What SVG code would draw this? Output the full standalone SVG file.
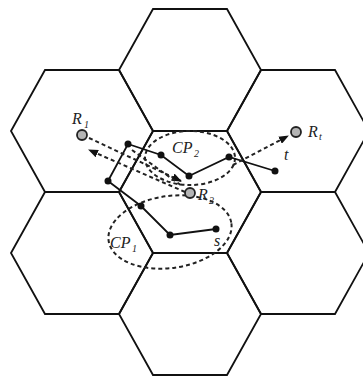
<svg xmlns="http://www.w3.org/2000/svg" width="363" height="376" viewBox="0 0 363 376">
<style>
.hex{fill:none;stroke:#111;stroke-width:1.8;stroke-linejoin:miter}
.path{fill:none;stroke:#111;stroke-width:1.8}
.dash{fill:none;stroke:#222;stroke-width:2;stroke-dasharray:4 3}
.dot{fill:#111}
.relay{fill:#b5b5b5;stroke:#222;stroke-width:1.8}
.lbl{font-family:"Liberation Serif",serif;font-style:italic;font-size:16px;fill:#222}
.sub{font-family:"Liberation Serif",serif;font-style:italic;font-size:10px;fill:#222}
</style>
<defs>
<marker id="ah" viewBox="0 0 10 8" refX="9" refY="4" markerWidth="10" markerHeight="8" markerUnits="userSpaceOnUse" orient="auto">
<path d="M0,0 L10,4 L0,8 Z" fill="#111"/>
</marker>
</defs>
<rect width="363" height="376" fill="#fff"/>
<g id="cells">
<polygon class="hex" points="119,70 153,9 227,9 261,70 227,131 153,131"/>
<polygon class="hex" points="119,192 153,131 227,131 261,192 227,253 153,253"/>
<polygon class="hex" points="119,314 153,253 227,253 261,314 227,375 153,375"/>
<polygon class="hex" points="11,131 45,70 119,70 153,131 119,192 45,192"/>
<polygon class="hex" points="11,253 45,192 119,192 153,253 119,314 45,314"/>
<polygon class="hex" points="227,131 261,70 335,70 369,131 335,192 261,192"/>
<polygon class="hex" points="227,253 261,192 335,192 369,253 335,314 261,314"/>
</g>
<g id="regions">
<ellipse class="dash" cx="190" cy="158" rx="45" ry="27"/>
<ellipse class="dash" cx="170" cy="232" rx="62" ry="36" transform="rotate(-8 170 232)"/>
</g>
<g id="connectors">
<polyline class="path" points="108,181 128,144 161,155 189,176 229,157 275,171"/>
<polyline class="path" points="108,181 141,206 170,235 216,229"/>
<line class="dash" x1="89" y1="138" x2="181" y2="181" marker-end="url(#ah)"/>
<line class="dash" x1="185" y1="192" x2="89" y2="150" marker-end="url(#ah)"/>
<line class="dash" x1="132" y1="150" x2="182" y2="186"/>
<line class="dash" x1="233" y1="165" x2="288" y2="136" marker-end="url(#ah)"/>
</g>
<g id="nodes">
<circle class="dot" cx="128" cy="144" r="3.5"/>
<circle class="dot" cx="161" cy="155" r="3.5"/>
<circle class="dot" cx="189" cy="176" r="3.5"/>
<circle class="dot" cx="229" cy="157" r="3.5"/>
<circle class="dot" cx="275" cy="171" r="3.5"/>
<circle class="dot" cx="108" cy="181" r="3.5"/>
<circle class="dot" cx="141" cy="206" r="3.5"/>
<circle class="dot" cx="170" cy="235" r="3.5"/>
<circle class="dot" cx="216" cy="229" r="3.5"/>
</g>
<g id="R1"><circle class="relay" cx="82" cy="135" r="5"/><text class="lbl" x="72" y="124">R</text><text class="sub" x="84" y="128">1</text></g>
<g id="R2"><circle class="relay" cx="190" cy="193" r="5"/><text class="lbl" x="198" y="200">R</text><text class="sub" x="209" y="204">2</text></g>
<g id="Rt"><circle class="relay" cx="296" cy="132" r="5"/><text class="lbl" x="308" y="137">R</text><text class="sub" x="319" y="140">t</text></g>
<g id="labels">
<text class="lbl" x="172" y="153">CP</text><text class="sub" x="194" y="157">2</text>
<text class="lbl" x="110" y="248">CP</text><text class="sub" x="132" y="252">1</text>
<text class="lbl" x="284" y="160">t</text>
<text class="lbl" x="214" y="246">s</text>
</g>
</svg>
